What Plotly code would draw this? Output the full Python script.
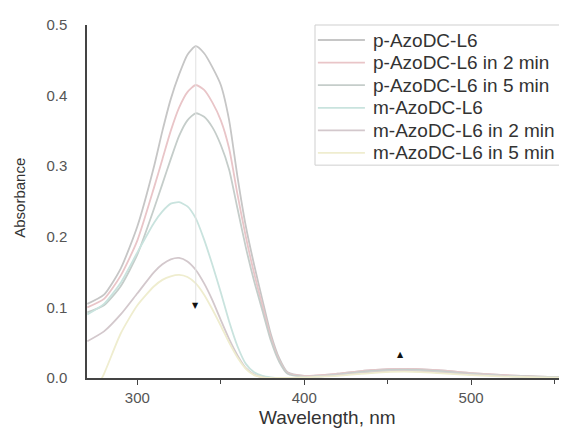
import plotly.graph_objects as go

wavelength = [270, 280, 290, 300, 310, 315, 320, 325, 330, 335, 340, 345, 350, 355, 360,
              365, 370, 375, 380, 385, 390, 400, 420, 440, 460, 480, 500, 520, 540, 560]

p_L6 = [0.105, 0.118, 0.155, 0.215, 0.300, 0.350, 0.395, 0.430, 0.458, 0.470, 0.460, 0.440, 0.415, 0.365, 0.285,
        0.215, 0.160, 0.110, 0.062, 0.028, 0.008, 0.003, 0.006, 0.011, 0.013, 0.011, 0.007, 0.004, 0.002, 0.001]
p_L6_2min = [0.100, 0.112, 0.145, 0.195, 0.270, 0.310, 0.350, 0.383, 0.405, 0.415, 0.408, 0.390, 0.365, 0.325, 0.260,
             0.200, 0.148, 0.102, 0.057, 0.025, 0.007, 0.003, 0.006, 0.011, 0.013, 0.011, 0.007, 0.004, 0.002, 0.001]
p_L6_5min = [0.093, 0.103, 0.130, 0.175, 0.240, 0.275, 0.310, 0.343, 0.365, 0.375, 0.370, 0.355, 0.330, 0.295, 0.240,
             0.185, 0.137, 0.095, 0.053, 0.023, 0.006, 0.002, 0.005, 0.010, 0.012, 0.010, 0.006, 0.003, 0.002, 0.001]
m_L6 = [0.090, 0.105, 0.135, 0.178, 0.220, 0.236, 0.247, 0.249, 0.243, 0.226, 0.196, 0.160, 0.121, 0.080, 0.045,
        0.020, 0.008, 0.003, 0.001, 0.000, 0.000, 0.001, 0.004, 0.008, 0.010, 0.008, 0.005, 0.003, 0.001, 0.000]
m_L6_2min = [0.052, 0.066, 0.090, 0.120, 0.150, 0.161, 0.168, 0.170, 0.165, 0.153, 0.134, 0.110, 0.082, 0.055, 0.032,
             0.014, 0.005, 0.001, 0.000, 0.000, 0.000, 0.001, 0.004, 0.008, 0.010, 0.008, 0.005, 0.003, 0.001, 0.000]
m_L6_5min = [-0.040, 0.006, 0.063, 0.103, 0.130, 0.139, 0.144, 0.146, 0.143, 0.134, 0.118, 0.097, 0.074, 0.050, 0.029,
             0.013, 0.004, 0.001, 0.000, 0.000, 0.000, 0.001, 0.003, 0.007, 0.009, 0.007, 0.004, 0.002, 0.001, 0.000]

series_names = ["p-AzoDC-L6", "p-AzoDC-L6 in 2 min", "p-AzoDC-L6 in 5 min",
                "m-AzoDC-L6", "m-AzoDC-L6 in 2 min", "m-AzoDC-L6 in 5 min"]
series_values = [p_L6, p_L6_2min, p_L6_5min, m_L6, m_L6_2min, m_L6_5min]
series_colors = ["#c6c6c6", "#e9c5c8", "#c5cdca", "#c9e3de", "#d3c8cc", "#efedcf"]

x_ticks = [300, 400, 500]
x_minor_ticks = [350, 450, 550]
y_ticks = [0.0, 0.1, 0.2, 0.3, 0.4, 0.5]

marker_line_x = [335, 335]
marker_line_y = [0.10, 0.47]
arrow_x = [335, 458]
arrow_y = [0.102, 0.034]
arrow_text = ["▼", "▲"]

fig = go.Figure()
for name, vals, col in zip(series_names, series_values, series_colors):
    fig.add_trace(go.Scatter(x=wavelength, y=vals, name=name, mode="lines", showlegend=False,
                             line=dict(color=col, width=1.8, shape="spline", smoothing=0.6)))

fig.add_trace(go.Scatter(x=marker_line_x, y=marker_line_y, mode="lines", showlegend=False,
                         line=dict(color="#e2e2e2", width=1), hoverinfo="skip"))

for ax_, ay_, t in zip(arrow_x, arrow_y, arrow_text):
    fig.add_annotation(x=ax_, y=ay_, text=t, showarrow=False,
                       font=dict(family="DejaVu Sans", size=8, color="#111111"))

# legend box (drawn manually, in paper coordinates)
leg_x0, leg_x1, leg_y0, leg_y1 = 0.475, 1.05, 0.603, 1.0
fig.add_shape(type="rect", xref="paper", yref="paper", x0=leg_x0, x1=leg_x1, y0=leg_y0, y1=leg_y1,
              line=dict(color="#cfcfcf", width=1), fillcolor="white", layer="above")
row_top, row_step = 0.9575, 0.0640
for i, (name, col) in enumerate(zip(series_names, series_colors)):
    ry = row_top - i * row_step
    fig.add_shape(type="line", xref="paper", yref="paper", x0=0.481, x1=0.579, y0=ry, y1=ry,
                  line=dict(color=col, width=1.8), layer="above")
    fig.add_annotation(xref="paper", yref="paper", x=0.5917, y=ry, text=name, showarrow=False,
                       xanchor="left", yanchor="middle", font=dict(size=19, color="#333333"))

# axis titles
fig.add_annotation(xref="paper", yref="paper", x=0.5, y=-0.113, text="Wavelength, nm",
                   showarrow=False, xanchor="center", yanchor="middle",
                   font=dict(size=19, color="#333333"))
fig.add_annotation(xref="paper", yref="paper", x=-0.14, y=0.51, text="Absorbance",
                   showarrow=False, xanchor="center", yanchor="middle", textangle=-90,
                   font=dict(size=15, color="#333333"))

fig.update_layout(
    width=559, height=425,
    margin=dict(l=79, r=0, t=17, b=55, autoexpand=False),
    paper_bgcolor="white", plot_bgcolor="white",
    font=dict(family="Liberation Sans, Arial", color="#333333"),
    showlegend=False,
    xaxis=dict(range=[269.8, 557.5], tickvals=x_ticks, ticks="outside", ticklen=5,
               tickcolor="#444444", showline=True, linecolor="#444444", linewidth=1.5,
               showgrid=False, zeroline=False,
               minor=dict(tickvals=x_minor_ticks, ticks="outside", ticklen=4, tickcolor="#444444"),
               tickfont=dict(size=15, color="#555555")),
    yaxis=dict(range=[0, 0.5], tickvals=y_ticks, tickformat=".1f", ticks="",
               showline=True, linecolor="#444444", linewidth=1.5,
               showgrid=False, zeroline=False,
               tickfont=dict(size=15, color="#555555"), ticklabelstandoff=15),
)

fig.write_html("out.html")
